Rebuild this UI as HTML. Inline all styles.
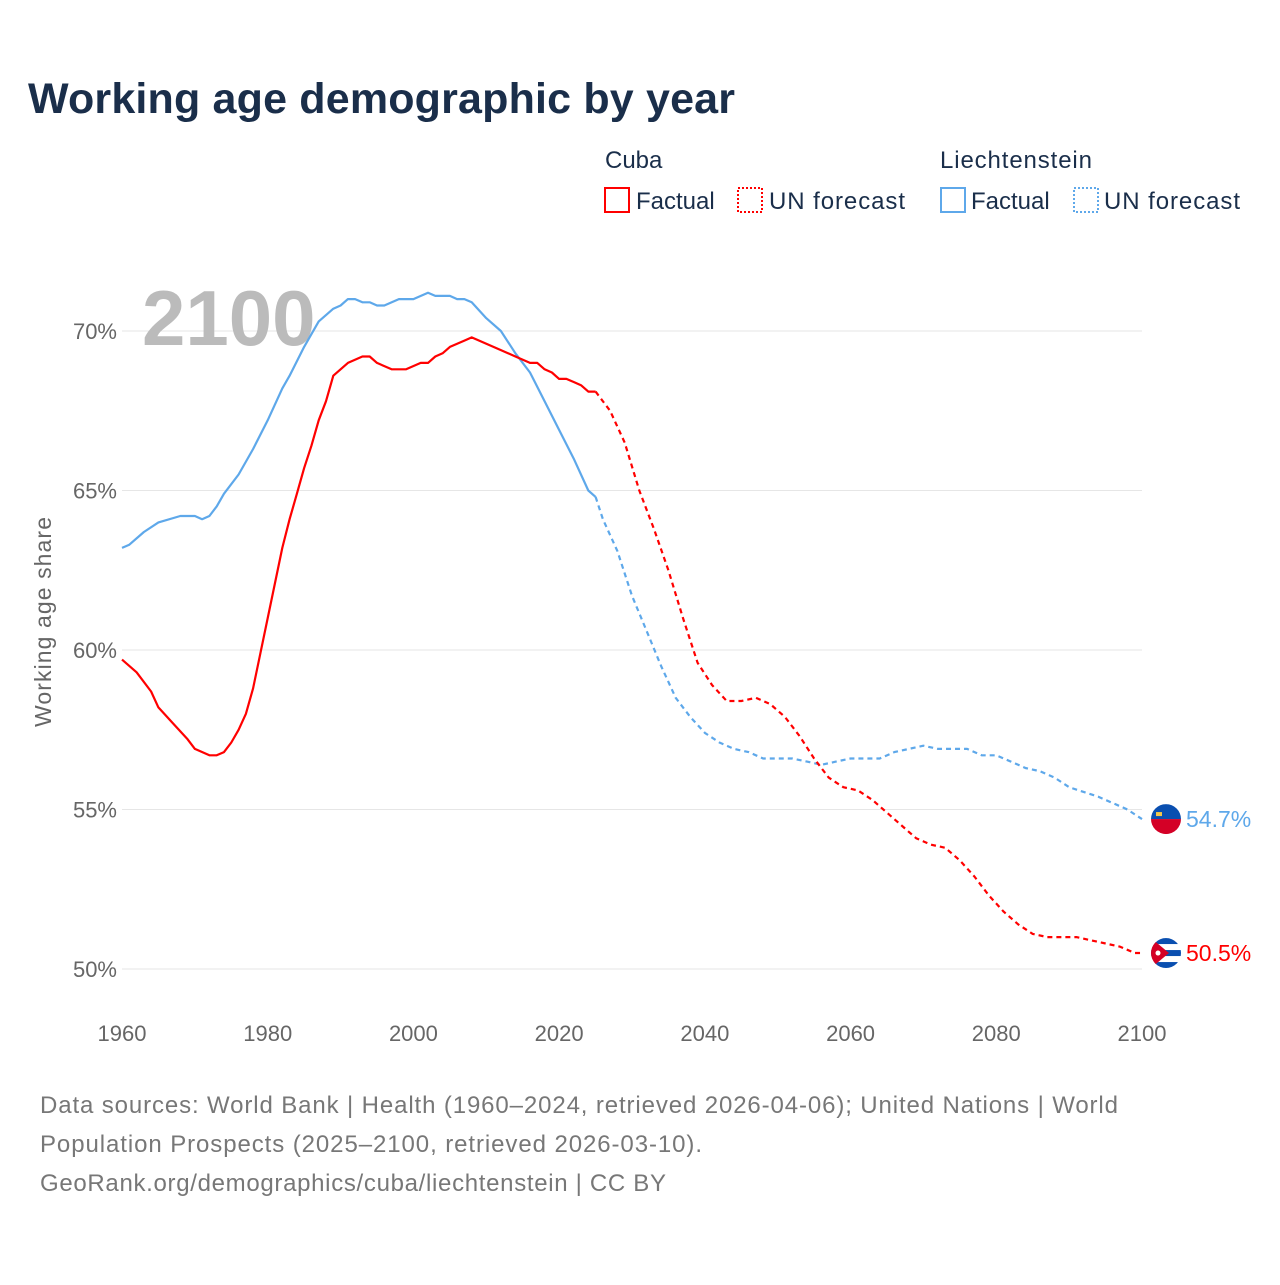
<!DOCTYPE html>
<html><head><meta charset="utf-8"><style>
body{margin:0;width:1280px;height:1280px;background:#fff;font-family:"Liberation Sans",sans-serif;overflow:hidden}
</style></head><body>
<svg width="1280" height="1280" xmlns="http://www.w3.org/2000/svg">
<defs><clipPath id="fc1"><circle cx="0" cy="0" r="15"/></clipPath></defs>
<text x="28" y="113" font-size="43" font-weight="bold" fill="#1a2e4a" textLength="707">Working age demographic by year</text>
<g font-size="24" fill="#1a2e4a">
<text x="605" y="168">Cuba</text>
<rect x="605" y="188" width="24" height="24" fill="none" stroke="#f00" stroke-width="2"/>
<text x="636" y="209">Factual</text>
<rect x="738" y="188" width="24" height="24" fill="none" stroke="#f00" stroke-width="2" stroke-dasharray="2,2"/>
<text x="769" y="209" textLength="136">UN forecast</text>
<text x="940" y="168" textLength="152">Liechtenstein</text>
<rect x="941" y="188" width="24" height="24" fill="none" stroke="#5ea8ea" stroke-width="2"/>
<text x="971" y="209">Factual</text>
<rect x="1074" y="188" width="24" height="24" fill="none" stroke="#5ea8ea" stroke-width="2" stroke-dasharray="2,2"/>
<text x="1104" y="209" textLength="136">UN forecast</text>
</g>
<g id="grid"></g>
<text x="142" y="345" font-size="78" font-weight="bold" fill="#bbb">2100</text>
<g id="plot"></g>
<text transform="translate(51,622) rotate(-90)" text-anchor="middle" font-size="23" fill="#666" textLength="210">Working age share</text>
<g font-size="24" fill="#777">
<text x="40" y="1113" textLength="1078">Data sources: World Bank | Health (1960–2024, retrieved 2026-04-06); United Nations | World</text>
<text x="40" y="1152" textLength="662">Population Prospects (2025–2100, retrieved 2026-03-10).</text>
<text x="40" y="1191" textLength="626">GeoRank.org/demographics/cuba/liechtenstein | CC BY</text>
</g>
</svg>
<script>
const xTicks=[1960,1980,2000,2020,2040,2060,2080,2100];
const yTicks=[50,55,60,65,70];
const cubaFactYears=[1960,1962,1964,1965,1967,1969,1970,1972,1973,1974,1975,1976,1977,1978,1979,1980,1981,1982,1983,1984,1985,1986,1987,1988,1989,1990,1991,1993,1994,1995,1997,1999,2001,2002,2003,2004,2005,2007,2008,2010,2012,2014,2016,2017,2018,2019,2020,2021,2022,2023,2024,2025];
const cubaFactVals=[59.7,59.3,58.7,58.2,57.7,57.2,56.9,56.7,56.7,56.8,57.1,57.5,58.0,58.8,59.9,61.0,62.1,63.2,64.1,64.9,65.7,66.4,67.2,67.8,68.6,68.8,69.0,69.2,69.2,69.0,68.8,68.8,69.0,69.0,69.2,69.3,69.5,69.7,69.8,69.6,69.4,69.2,69.0,69.0,68.8,68.7,68.5,68.5,68.4,68.3,68.1,68.1];
const cubaFcYears=[2025,2027,2029,2031,2033,2035,2037,2039,2041,2043,2045,2047,2049,2051,2053,2055,2057,2059,2061,2063,2065,2067,2069,2071,2073,2075,2077,2079,2081,2083,2085,2087,2091,2093,2095,2097,2099,2100];
const cubaFcVals=[68.1,67.5,66.5,65.0,63.8,62.5,61.0,59.6,58.9,58.4,58.4,58.5,58.3,57.9,57.3,56.6,56.0,55.7,55.6,55.3,54.9,54.5,54.1,53.9,53.8,53.4,52.9,52.3,51.8,51.4,51.1,51.0,51.0,50.9,50.8,50.7,50.5,50.5];
const liFactYears=[1960,1961,1963,1965,1968,1970,1971,1972,1973,1974,1976,1978,1980,1982,1983,1985,1987,1989,1990,1991,1992,1993,1994,1995,1996,1998,2000,2002,2003,2005,2006,2007,2008,2010,2012,2014,2016,2018,2020,2022,2024,2025];
const liFactVals=[63.2,63.3,63.7,64.0,64.2,64.2,64.1,64.2,64.5,64.9,65.5,66.3,67.2,68.2,68.6,69.5,70.3,70.7,70.8,71.0,71.0,70.9,70.9,70.8,70.8,71.0,71.0,71.2,71.1,71.1,71.0,71.0,70.9,70.4,70.0,69.3,68.7,67.8,66.9,66.0,65.0,64.8];
const liFcYears=[2025,2026,2028,2030,2032,2034,2036,2038,2040,2042,2044,2046,2048,2052,2054,2056,2058,2060,2064,2066,2068,2070,2072,2074,2076,2078,2080,2082,2084,2086,2088,2090,2094,2098,2100];
const liFcVals=[64.8,64.1,63.1,61.7,60.6,59.5,58.5,57.9,57.4,57.1,56.9,56.8,56.6,56.6,56.5,56.4,56.5,56.6,56.6,56.8,56.9,57.0,56.9,56.9,56.9,56.7,56.7,56.5,56.3,56.2,56.0,55.7,55.4,55.0,54.7];
const X=y=>122+(y-1960)*(1020/140);
const Y=v=>331+(70-v)*(638/20);
const NS='http://www.w3.org/2000/svg';
const grid=document.getElementById('grid'),plot=document.getElementById('plot');
function mk(t,a,p){const e=document.createElementNS(NS,t);for(const k in a)e.setAttribute(k,a[k]);p.appendChild(e);return e;}
yTicks.forEach(v=>{
 const l=mk('line',{x1:122,x2:1142,y1:Y(v),y2:Y(v),stroke:'#e6e6e6','stroke-width':1},grid);
 
 
 const t=mk('text',{x:117,y:Y(v)+8,'text-anchor':'end','font-size':22,fill:'#666'},grid);
 t.textContent=v+'%';
 
 
});
xTicks.forEach(y=>{
 const t=mk('text',{x:X(y),y:1041,'text-anchor':'middle','font-size':22,fill:'#666'},grid);
 t.textContent=y;
 
 
});
function line(ys,vs,col,dash,name){
 const d=ys.map((y,i)=>(i?'L':'M')+X(y).toFixed(1)+','+Y(vs[i]).toFixed(1)).join('');
 const p=mk('path',{d:d,fill:'none',stroke:col,'stroke-width':2.2,'stroke-linejoin':'round'},plot);
 if(dash)p.setAttribute('stroke-dasharray','5,4');
 
 
}
line(liFactYears,liFactVals,'#5ea8ea',false,'liechtenstein-factual-line');
line(liFcYears,liFcVals,'#5ea8ea',true,'liechtenstein-forecast-line');
line(cubaFactYears,cubaFactVals,'#f00',false,'cuba-factual-line');
line(cubaFcYears,cubaFcVals,'#f00',true,'cuba-forecast-line');
const lv=liFcVals[liFcVals.length-1],cv=cubaFcVals[cubaFcVals.length-1];
const fx=1166;
const g1=mk('g',{transform:`translate(${fx},${Y(lv)})`,'clip-path':'url(#fc1)'},plot);


mk('rect',{x:-15,y:-15,width:30,height:15,fill:'#0a4fb0'},g1);
mk('rect',{x:-15,y:0,width:30,height:15,fill:'#d40026'},g1);
mk('rect',{x:-10,y:-7,width:6,height:4,fill:'#f5c84a'},g1);
const t1=mk('text',{x:1186,y:Y(lv)+8,'font-size':23,fill:'#5ea8ea'},plot);
t1.textContent=lv.toFixed(1)+'%';


const g2=mk('g',{transform:`translate(${fx},${Y(cv)})`,'clip-path':'url(#fc1)'},plot);


mk('rect',{x:-15,y:-15,width:30,height:30,fill:'#fff'},g2);
[-15,-3,9].forEach(yy=>mk('rect',{x:-15,y:yy,width:30,height:6,fill:'#0a4fb0'},g2));
mk('path',{d:'M-15,-15 L3,0 L-15,15 Z',fill:'#d40026'},g2);
mk('circle',{cx:-8,cy:0,r:2.5,fill:'#fff'},g2);
const t2=mk('text',{x:1186,y:Y(cv)+8,'font-size':23,fill:'#f00'},plot);
t2.textContent=cv.toFixed(1)+'%';


</script>
</body></html>
